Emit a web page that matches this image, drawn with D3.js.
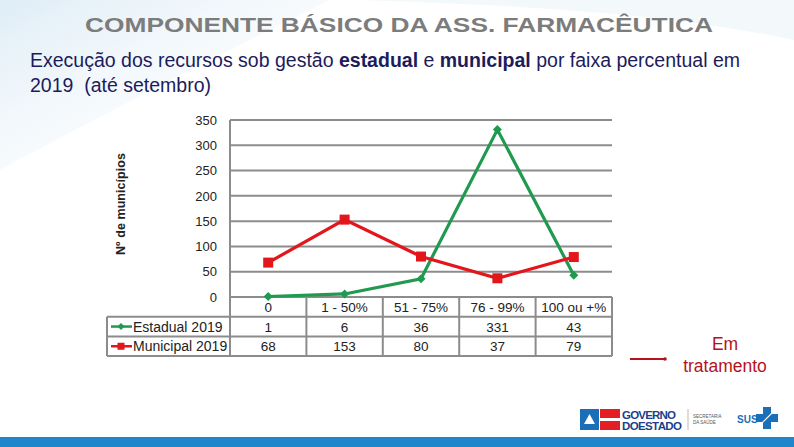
<!DOCTYPE html>
<html>
<head>
<meta charset="utf-8">
<script src="https://cdn.jsdelivr.net/npm/d3@7"></script>
<style>
  body { margin: 0; background: #fff; }
  svg { display: block; font-family: "Liberation Sans", Arial, sans-serif; }
</style>
</head>
<body>
<svg id="chart" width="794" height="447"></svg>
<script>
const categories = ['0', '1 - 50%', '51 - 75%', '76 - 99%', '100 ou +%'];
const estadual = [1, 6, 36, 331, 43];
const municipal = [68, 153, 80, 37, 79];
const yTicks = [0, 50, 100, 150, 200, 250, 300, 350];

const series = [
    {name: 'Estadual 2019', values: estadual, color: '#1f9a4e', marker: 'diamond'},
    {name: 'Municipal 2019', values: municipal, color: '#e3161b', marker: 'square'},
];

const svg = d3.select('#chart');
const W = 794, H = 447;
const plot = {left: 230, right: 612, top: 120, bottom: 297};
const GRID = '#8c8c8c';

// background swoosh
const defs = svg.append('defs');
const grad = defs.append('linearGradient').attr('id', 'sw')
    .attr('x1', 0).attr('y1', 0).attr('x2', 1).attr('y2', 1);
grad.append('stop').attr('offset', 0).attr('stop-color', '#d6e8f4');
grad.append('stop').attr('offset', 1).attr('stop-color', '#ffffff').attr('stop-opacity', 0);
svg.append('rect').attr('width', W).attr('height', H).attr('fill', '#fff');
svg.append('path')
    .attr('d', 'M0,0 L330,0 C250,40 150,90 0,170 Z')
    .attr('fill', 'url(#sw)').attr('opacity', 0.8);
svg.append('path')
    .attr('d', 'M360,0 L794,0 L794,40 C650,10 500,5 360,0 Z')
    .attr('fill', '#eef5fa').attr('opacity', 0.7);

// titles
svg.append('text').attr('x', 85).attr('y', 32)
    .attr('font-size', 21).attr('font-weight', 'bold').attr('fill', '#7c7c7c')
    .attr('textLength', 628).attr('lengthAdjust', 'spacingAndGlyphs')
    .text('COMPONENTE BÁSICO DA ASS. FARMACÊUTICA');

const sub = svg.append('text').attr('x', 30).attr('y', 67)
    .attr('font-size', 19.5).attr('fill', '#1c1c5c');
sub.append('tspan').text('Execução dos recursos sob gestão ');
sub.append('tspan').attr('font-weight', 'bold').text('estadual');
sub.append('tspan').text(' e ');
sub.append('tspan').attr('font-weight', 'bold').text('municipal');
sub.append('tspan').text(' por faixa percentual em');
svg.append('text').attr('x', 30).attr('y', 92)
    .attr('font-size', 19.5).attr('fill', '#1c1c5c')
    .attr('xml:space', 'preserve').text('2019  (até setembro)');

// scales
const x = d3.scaleBand().domain(categories).range([plot.left, plot.right]);
const y = d3.scaleLinear().domain([0, 350]).range([plot.bottom, plot.top]);

// grid
const g = svg.append('g');
g.selectAll('line.grid').data(yTicks.filter(d => d > 0)).join('line')
    .attr('x1', plot.left).attr('x2', plot.right)
    .attr('y1', d => y(d)).attr('y2', d => y(d))
    .attr('stroke', GRID).attr('stroke-width', 2);

const yAxis = d3.axisLeft(y).tickValues(yTicks).tickSize(0).tickPadding(0);
const ya = svg.append('g').attr('transform', `translate(${plot.left - 13},0)`).call(yAxis);
ya.select('.domain').remove();
ya.selectAll('text').attr('font-size', 13).attr('fill', '#222')
    .attr('font-family', '"Liberation Sans", Arial, sans-serif');
svg.append('line').attr('x1', plot.left).attr('x2', plot.left)
    .attr('y1', plot.top).attr('y2', plot.bottom).attr('stroke', GRID).attr('stroke-width', 2);

svg.append('text')
    .attr('transform', 'translate(125,204) rotate(-90)')
    .attr('text-anchor', 'middle').attr('font-size', 12.5).attr('font-weight', 'bold')
    .attr('fill', '#222').attr('textLength', 102).attr('lengthAdjust', 'spacing')
    .text('Nº de municípios');

// data table
const rowH = 19.7;
const labelLeft = 107;
const tbl = svg.append('g');
const tableBottom = plot.bottom + rowH * 3;
[0, 1, 2, 3].forEach(i => {
    const yy = plot.bottom + rowH * i;
    tbl.append('line')
        .attr('x1', i === 0 ? plot.left : labelLeft).attr('x2', plot.right)
        .attr('y1', yy).attr('y2', yy).attr('stroke', GRID).attr('stroke-width', 2);
});
const xs = [plot.left].concat(categories.map(c => x(c) + x.bandwidth()));
xs.forEach(xx => tbl.append('line')
    .attr('x1', xx).attr('x2', xx).attr('y1', plot.bottom).attr('y2', tableBottom)
    .attr('stroke', GRID).attr('stroke-width', 2));
tbl.append('line').attr('x1', labelLeft).attr('x2', labelLeft)
    .attr('y1', plot.bottom + rowH).attr('y2', tableBottom)
    .attr('stroke', GRID).attr('stroke-width', 2);

tbl.selectAll('text.cat').data(categories).join('text')
    .attr('x', d => x(d) + x.bandwidth() / 2).attr('y', plot.bottom + rowH / 2 + 5)
    .attr('text-anchor', 'middle').attr('font-size', 13.5).attr('fill', '#222').text(d => d);

function marker(sel, s, cx, cy, size) {
    if (s.marker === 'diamond') {
        sel.append('path')
            .attr('d', `M${cx},${cy - size} L${cx + size},${cy} L${cx},${cy + size} L${cx - size},${cy} Z`)
            .attr('fill', s.color);
    } else {
        sel.append('rect').attr('x', cx - size).attr('y', cy - size)
            .attr('width', size * 2).attr('height', size * 2).attr('fill', s.color);
    }
}

series.forEach((s, i) => {
    const cy = plot.bottom + rowH * (i + 1) + rowH / 2;
    tbl.append('line').attr('x1', 111).attr('x2', 132).attr('y1', cy).attr('y2', cy)
        .attr('stroke', s.color).attr('stroke-width', 2.5);
    marker(tbl, s, 121, cy, 3.5);
    tbl.append('text').attr('x', 133).attr('y', cy + 5)
        .attr('font-size', 14).attr('fill', '#222').text(s.name);
    tbl.selectAll(null).data(s.values).join('text')
        .attr('x', (d, j) => x(categories[j]) + x.bandwidth() / 2).attr('y', cy + 5)
        .attr('text-anchor', 'middle').attr('font-size', 13.5).attr('fill', '#222').text(d => d);
});

// lines
const line = d3.line().x((d, j) => x(categories[j]) + x.bandwidth() / 2).y(d => y(d));
series.forEach(s => {
    svg.append('path').datum(s.values).attr('d', line)
        .attr('fill', 'none').attr('stroke', s.color).attr('stroke-width', 3.2)
        .attr('stroke-linejoin', 'miter');
});
series.forEach(s => {
    const mg = svg.append('g');
    s.values.forEach((v, j) => marker(mg, s, x(categories[j]) + x.bandwidth() / 2, y(v),
        s.marker === 'diamond' ? 4.5 : 5));
});

// annotation
svg.append('line').attr('x1', 630).attr('x2', 665).attr('y1', 359).attr('y2', 359)
    .attr('stroke', '#b5121b').attr('stroke-width', 2);
svg.append('circle').attr('cx', 665).attr('cy', 359).attr('r', 1.8).attr('fill', '#b5121b');
svg.append('text').attr('x', 725).attr('y', 350).attr('text-anchor', 'middle')
    .attr('font-size', 17.5).attr('fill', '#b5121b').text('Em');
svg.append('text').attr('x', 725).attr('y', 372).attr('text-anchor', 'middle')
    .attr('font-size', 17.5).attr('fill', '#b5121b').text('tratamento');

// logos
const lg = svg.append('g');
lg.append('rect').attr('x', 580).attr('y', 409).attr('width', 19).attr('height', 21).attr('fill', '#1b6fb8');
lg.append('path').attr('d', 'M584,424 L589.5,414 L595,424 Z').attr('fill', '#fff');
lg.append('rect').attr('x', 600).attr('y', 409).attr('width', 20).attr('height', 9).attr('fill', '#e31e24');
lg.append('rect').attr('x', 600).attr('y', 421).attr('width', 20).attr('height', 9).attr('fill', '#e31e24');
lg.append('text').attr('x', 622).attr('y', 418.5).attr('font-size', 11.5).attr('font-weight', 'bold')
    .attr('fill', '#1b3f8c').attr('textLength', 54).text('GOVERNO');
lg.append('text').attr('x', 622).attr('y', 430).attr('font-size', 11.5).attr('font-weight', 'bold')
    .attr('fill', '#1b3f8c').attr('textLength', 60).text('DOESTADO');
lg.append('line').attr('x1', 688).attr('x2', 688).attr('y1', 409).attr('y2', 430)
    .attr('stroke', '#aaa').attr('stroke-width', 0.8);
lg.append('text').attr('x', 693).attr('y', 418).attr('font-size', 4.5).attr('fill', '#555').text('SECRETARIA');
lg.append('text').attr('x', 693).attr('y', 424).attr('font-size', 4.5).attr('fill', '#555').text('DA SAÚDE');
lg.append('text').attr('x', 737).attr('y', 423).attr('font-size', 10).attr('font-weight', 'bold')
    .attr('fill', '#1b6fb8').text('SUS');
lg.append('rect').attr('x', 763).attr('y', 407).attr('width', 8).attr('height', 22).attr('fill', '#1b6fb8');
lg.append('rect').attr('x', 756).attr('y', 414).attr('width', 22).attr('height', 8).attr('fill', '#1b6fb8');
lg.append('line').attr('x1', 757).attr('y1', 428).attr('x2', 777).attr('y2', 408)
    .attr('stroke', '#fff').attr('stroke-width', 1.2);

// bottom bar
svg.append('rect').attr('x', 0).attr('y', 437).attr('width', W).attr('height', 10).attr('fill', '#1f86cc');
</script>
</body>
</html>
